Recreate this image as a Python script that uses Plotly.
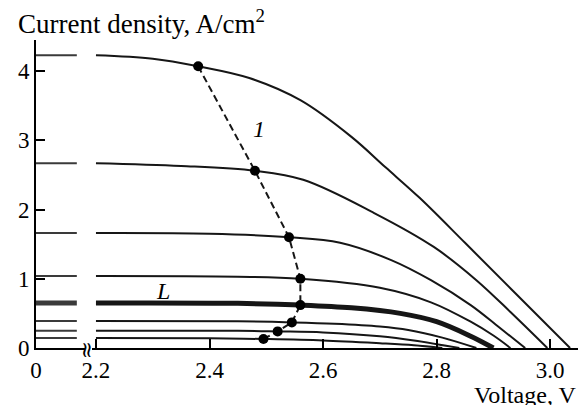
import plotly.graph_objects as go

# ---- data ----
c1_v = [2.20, 2.30, 2.38, 2.47, 2.56, 2.65, 2.71, 2.77, 2.85, 2.94, 3.035]
c1_j = [4.23, 4.18, 4.07, 3.90, 3.58, 3.05, 2.61, 2.17, 1.52, 0.78, 0.0]
c2_v = [2.20, 2.35, 2.48, 2.565, 2.69, 2.795, 2.87, 2.93, 2.995]
c2_j = [2.67, 2.63, 2.56, 2.43, 1.95, 1.46, 0.98, 0.52, 0.0]
c3_v = [2.20, 2.40, 2.54, 2.63, 2.72, 2.79, 2.86, 2.91, 2.956]
c3_j = [1.66, 1.65, 1.60, 1.52, 1.27, 0.98, 0.62, 0.30, 0.0]
c4_v = [2.20, 2.45, 2.56, 2.70, 2.79, 2.86, 2.90, 2.93]
c4_j = [1.04, 1.03, 1.00, 0.87, 0.66, 0.38, 0.18, 0.0]
cL_v = [2.20, 2.45, 2.56, 2.65, 2.736, 2.80, 2.86, 2.90]
cL_j = [0.65, 0.645, 0.62, 0.58, 0.50, 0.38, 0.17, 0.0]
c6_v = [2.20, 2.45, 2.545, 2.62, 2.70, 2.75, 2.81, 2.87]
c6_j = [0.39, 0.385, 0.37, 0.35, 0.31, 0.26, 0.15, 0.0]
c7_v = [2.20, 2.45, 2.52, 2.60, 2.70, 2.76, 2.84]
c7_j = [0.25, 0.25, 0.24, 0.225, 0.17, 0.11, 0.0]
c8_v = [2.20, 2.40, 2.495, 2.60, 2.70, 2.76, 2.81]
c8_j = [0.145, 0.14, 0.13, 0.11, 0.07, 0.04, 0.0]

curves = [(c1_v, c1_j, False), (c2_v, c2_j, False), (c3_v, c3_j, False),
          (c4_v, c4_j, False), (cL_v, cL_j, True), (c6_v, c6_j, False),
          (c7_v, c7_j, False), (c8_v, c8_j, False)]

left_v = [0.0, 0.1]  # short-circuit region, left of the axis break

mpp_v = [2.38, 2.48, 2.54, 2.56, 2.56, 2.545, 2.52, 2.495]
mpp_j = [4.07, 2.56, 1.60, 1.00, 0.62, 0.37, 0.24, 0.13]

x_ticks = [2.2, 2.4, 2.6, 2.8, 3.0]
x_ticktext = ["2.2", "2.4", "2.6", "2.8", "3.0"]
y_ticks = [0, 1, 2, 3, 4]

FONT = "Liberation Serif"
INK = "#161616"

fig = go.Figure()
for v, j, thick in curves:
    w = 5 if thick else 2
    fig.add_trace(go.Scatter(x=v, y=j, mode="lines", xaxis="x2", yaxis="y",
                             line=dict(color=INK, width=w, shape="spline", smoothing=1.0),
                             hoverinfo="skip", showlegend=False))
    fig.add_trace(go.Scatter(x=left_v, y=[j[0], j[0]], mode="lines", xaxis="x", yaxis="y",
                             line=dict(color="#3a3a3a", width=w),
                             hoverinfo="skip", showlegend=False))

fig.add_trace(go.Scatter(x=mpp_v, y=mpp_j, mode="lines+markers", xaxis="x2", yaxis="y",
                         line=dict(color=INK, width=2, dash="7px,4px"),
                         marker=dict(color="black", size=10),
                         hoverinfo="skip", showlegend=False))

W, H = 585, 405
ml, mr, mt, mb = 36, 7, 40, 57
pw = W - ml - mr
ph = H - mt - mb

axis_common = dict(showline=True, linecolor="black", linewidth=2, ticks="inside",
                   ticklen=9, tickwidth=2, tickcolor="black", showgrid=False,
                   zeroline=False, tickfont=dict(family=FONT, size=23, color="black"))

fig.update_layout(
    width=W, height=H, margin=dict(l=ml, r=mr, t=mt, b=mb),
    paper_bgcolor="white", plot_bgcolor="white",
    xaxis=dict(domain=[0, (85 - ml) / pw], range=[0, 0.12], tickvals=[0],
               ticktext=["0"], anchor="y", **axis_common),
    xaxis2=dict(domain=[(92 - ml) / pw, 1], range=[2.193, 3.049], tickvals=x_ticks,
                ticktext=x_ticktext, anchor="y", **axis_common),
    yaxis=dict(domain=[0, 1], range=[0, 4.45], tickvals=y_ticks, anchor="x",
               **axis_common),
)

fig.add_annotation(text="Current density, A/cm<sup>2</sup>", xref="paper", yref="paper",
                   x=(16 - ml) / pw, y=1 - 1 / ph, xanchor="left", yanchor="bottom",
                   showarrow=False, font=dict(family=FONT, size=27, color="black"))
fig.add_annotation(text="Voltage, V", xref="paper", yref="paper",
                   x=1, y=-(380 - (H - mb)) / ph, xanchor="right", yanchor="top",
                   showarrow=False, font=dict(family=FONT, size=24, color="black"))
fig.add_annotation(text="≈", xref="paper", yref="paper", x=(88 - ml) / pw, y=-2 / ph,
                   xanchor="center", yanchor="middle", textangle=90, showarrow=False,
                   font=dict(family="DejaVu Serif", size=22, color="black"))
fig.add_annotation(text="<i>1</i>", xref="x2", yref="y", x=2.487, y=3.16,
                   showarrow=False, font=dict(family=FONT, size=24, color="black"))
fig.add_annotation(text="<i>L</i>", xref="x2", yref="y", x=2.318, y=0.82,
                   showarrow=False, font=dict(family=FONT, size=24, color="black"))

fig.write_html("out.html")
